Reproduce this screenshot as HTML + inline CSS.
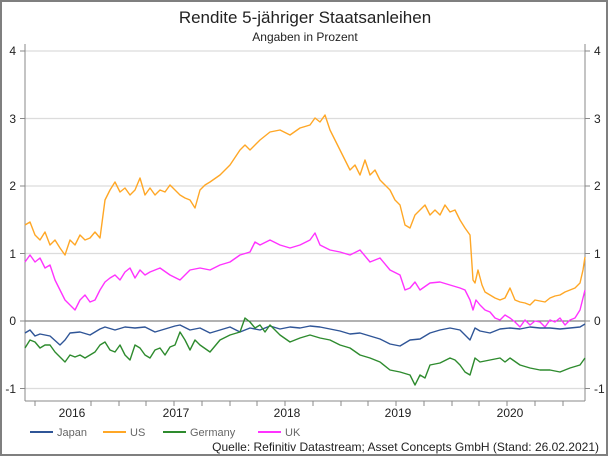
<!DOCTYPE html>
<html><head><meta charset="utf-8"><style>
body{margin:0;background:#fff}
svg{display:block;font-family:"Liberation Sans",sans-serif}
</style></head><body>
<svg width="610" height="458" viewBox="0 0 610 458">
<rect x="1" y="1" width="606" height="454" fill="#fff" stroke="#7f7f7f" stroke-width="2"/>
<text x="305" y="23" text-anchor="middle" font-size="17" fill="#222">Rendite 5-jähriger Staatsanleihen</text>
<text x="305" y="41" text-anchor="middle" font-size="12" fill="#222">Angaben in Prozent</text>
<g stroke="#dcdcdc" stroke-width="1.3">
<line x1="25" x2="585" y1="51" y2="51"/><line x1="25" x2="585" y1="118.5" y2="118.5"/>
<line x1="25" x2="585" y1="186" y2="186"/><line x1="25" x2="585" y1="253.5" y2="253.5"/>
<line x1="25" x2="585" y1="388.5" y2="388.5"/>
</g>
<line x1="25" x2="585" y1="321" y2="321" stroke="#666" stroke-width="1"/>
<g stroke="#888" stroke-width="1" fill="none">
<line x1="25" x2="25" y1="44" y2="401"/><line x1="585" x2="585" y1="44" y2="401"/>
<line x1="25" x2="585" y1="401" y2="401"/>
<path d="M35 401v5M91 401v5M119 401v5M146 401v5M174 401v5M202 401v5M230 401v5M257 401v5M285 401v5M313 401v5M341 401v5M368 401v5M396 401v5M424 401v5M452 401v5M479 401v5M507 401v5M535 401v5M563 401v5"/>
<path d="M20 51h5M20 118.5h5M20 186h5M20 253.5h5M20 321h5M20 388.5h5M585 51h5M585 118.5h5M585 186h5M585 253.5h5M585 321h5M585 388.5h5"/>
</g>
<g font-size="12" fill="#222">
<text x="16" y="55" text-anchor="end">4</text><text x="16" y="123" text-anchor="end">3</text>
<text x="16" y="190" text-anchor="end">2</text><text x="16" y="258" text-anchor="end">1</text>
<text x="16" y="325" text-anchor="end">0</text><text x="16" y="393" text-anchor="end">-1</text>
<text x="594" y="55">4</text><text x="594" y="123">3</text><text x="594" y="190">2</text>
<text x="594" y="258">1</text><text x="594" y="325">0</text><text x="594" y="393">-1</text>
<text x="72" y="417" text-anchor="middle">2016</text><text x="176" y="417" text-anchor="middle">2017</text>
<text x="287" y="417" text-anchor="middle">2018</text><text x="398" y="417" text-anchor="middle">2019</text>
<text x="510" y="417" text-anchor="middle">2020</text>
</g>
<g fill="none" stroke-width="1.4" stroke-linejoin="round">
<polyline stroke="#ffa726" points="25,225 30,222 35,235 40,240 45,232 50,245 55,240 60,248 65,255 70,240 75,245 80,235 85,240 90,238 95,232 100,238 105,200 110,190 115,182 120,192 125,188 130,195 135,190 140,178 145,195 150,188 155,195 160,190 165,192 170,185 175,190 180,195 185,198 190,200 195,208 200,190 205,185 210,182 220,175 230,165 240,150 245,145 250,150 260,140 270,132 280,130 290,135 300,128 310,125 315,118 320,122 325,115 330,130 335,140 340,150 345,160 350,170 355,165 360,175 365,160 370,175 375,170 380,180 385,185 390,190 395,200 400,205 405,225 410,228 415,215 420,210 425,205 430,215 435,210 440,215 445,205 450,212 455,210 460,220 465,228 470,235 473,280 475,283 478,270 482,285 485,292 490,295 495,298 500,300 505,298 510,288 515,300 520,302 525,303 530,305 535,300 540,301 545,302 550,298 555,296 560,295 565,292 570,290 575,288 580,283 583,270 585,257"/>
<polyline stroke="#ff33ff" points="25,262 30,255 35,262 40,258 45,268 50,265 55,280 60,290 65,300 70,305 75,310 80,300 85,295 90,302 95,300 100,290 105,282 110,278 115,275 120,280 125,272 130,268 135,278 140,270 145,275 150,272 160,268 170,275 180,280 190,270 200,268 210,270 220,265 230,262 240,255 250,252 255,242 260,245 270,240 280,245 290,248 300,245 310,240 315,233 320,245 330,250 340,252 350,255 360,250 370,262 380,258 390,270 400,275 405,290 410,288 415,282 420,290 430,283 440,282 450,285 460,288 465,290 470,300 473,310 476,300 480,305 485,310 490,312 495,318 500,320 505,315 510,318 515,322 520,327 525,320 530,325 535,321 540,322 545,327 550,320 555,322 560,318 565,325 570,320 575,318 580,310 585,290"/>
<polyline stroke="#2f5597" points="25,333 30,330 35,336 40,334 50,336 60,345 65,340 70,333 80,332 90,335 100,329 105,327 115,330 125,327 135,328 145,327 155,332 165,329 175,326 180,325 190,330 200,328 210,333 220,330 230,327 240,332 250,328 260,330 270,326 280,329 290,327 300,328 310,326 320,327 330,329 340,331 350,334 360,333 370,336 380,339 390,344 400,346 410,340 420,339 430,333 440,330 450,328 460,330 465,335 470,340 475,328 480,331 490,333 500,329 510,328 520,329 530,327 540,328 550,328 560,329 570,328 580,327 585,324"/>
<polyline stroke="#2e8b2e" points="25,348 30,340 35,342 40,348 45,345 50,345 55,352 60,357 65,362 70,355 75,357 80,355 85,358 90,355 95,352 100,345 105,342 110,350 115,352 120,345 125,355 130,360 135,345 140,348 145,355 150,358 155,350 160,348 165,355 170,347 175,345 180,332 185,340 190,350 195,340 200,345 210,352 220,340 230,335 240,332 245,318 250,322 255,328 260,325 265,332 270,325 275,330 280,335 290,342 300,338 310,335 320,338 330,340 340,345 350,348 360,355 370,358 380,362 390,370 400,372 410,375 415,385 420,375 425,378 430,365 440,363 450,358 455,360 460,365 465,372 470,375 475,358 480,362 490,360 500,358 505,362 510,358 520,365 530,368 540,370 550,370 560,372 570,368 580,365 585,358"/>
</g>
<g stroke-width="2">
<line x1="30" x2="53" y1="432" y2="432" stroke="#2f5597"/>
<line x1="103" x2="126" y1="432" y2="432" stroke="#ffa726"/>
<line x1="163" x2="186" y1="432" y2="432" stroke="#2e8b2e"/>
<line x1="258" x2="281" y1="432" y2="432" stroke="#ff33ff"/>
</g>
<g font-size="11" fill="#666">
<text x="57" y="436">Japan</text><text x="130" y="436">US</text>
<text x="190" y="436">Germany</text><text x="285" y="436">UK</text>
</g>
<text x="599" y="451" text-anchor="end" font-size="12" fill="#222">Quelle: Refinitiv Datastream; Asset Concepts GmbH (Stand: 26.02.2021)</text>
</svg>
</body></html>
